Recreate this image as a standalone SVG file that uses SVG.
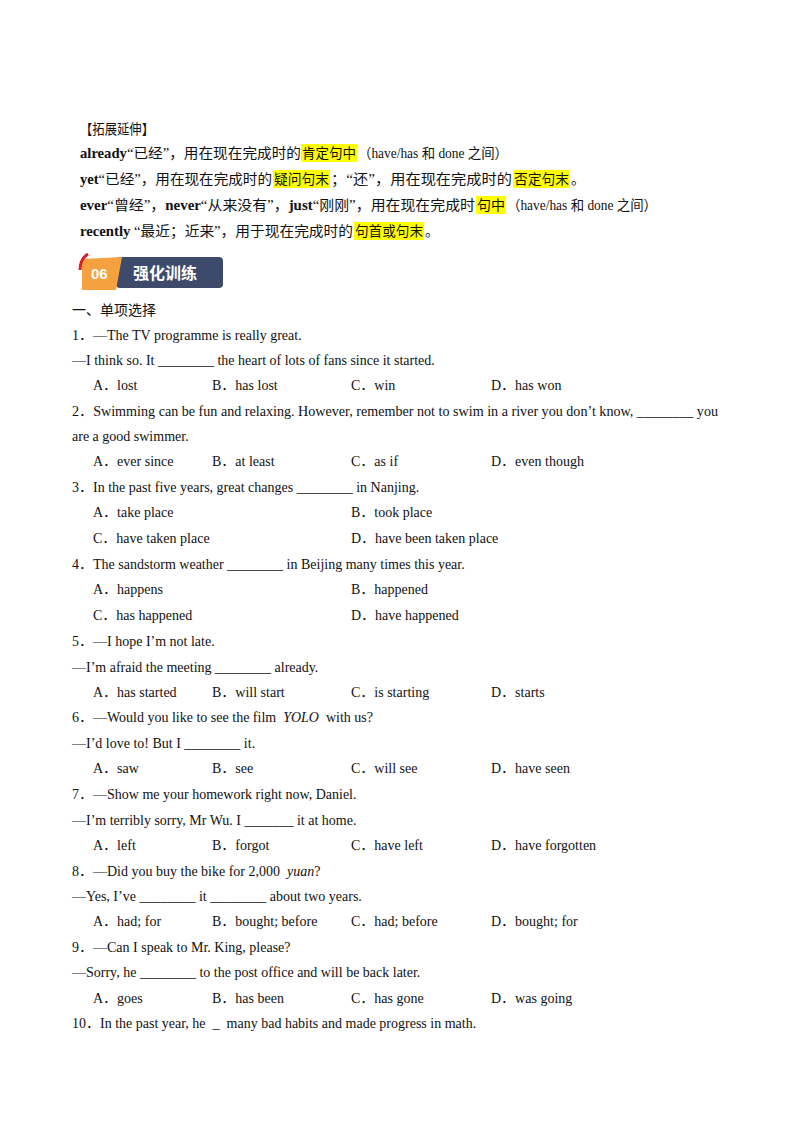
<svg xmlns="http://www.w3.org/2000/svg" width="800" height="1132" viewBox="0 0 800 1132">
<style>
text{font-family:"Liberation Serif","Noto Sans CJK SC",serif;font-size:14px;fill:#111}
.b{font-weight:bold}
.hl{fill:#ffff00}
</style>
<rect width="800" height="1132" fill="#fff"/>
<g id="highlights">
<rect class="hl" x="301" y="144" width="56" height="18"/>
<rect class="hl" x="273" y="170" width="57" height="18"/>
<rect class="hl" x="513" y="170" width="57" height="18"/>
<rect class="hl" x="476" y="196" width="30" height="18"/>
<rect class="hl" x="354" y="222" width="70" height="18"/>
</g>
<g id="extension">
<text x="80" y="134" textLength="74" lengthAdjust="spacingAndGlyphs">【拓展延伸】</text>
<text x="80" y="158" textLength="221" lengthAdjust="spacingAndGlyphs"><tspan class="b">already</tspan>“已经”，用在现在完成时的</text>
<text x="302" y="158" textLength="54" lengthAdjust="spacingAndGlyphs">肯定句中</text>
<text x="358" y="158" textLength="150" lengthAdjust="spacingAndGlyphs">（have/has 和 done 之间）</text>
<text x="80" y="184" textLength="192" lengthAdjust="spacingAndGlyphs"><tspan class="b">yet</tspan>“已经”，用在现在完成时的</text>
<text x="274" y="184" textLength="55" lengthAdjust="spacingAndGlyphs">疑问句末</text>
<text x="331" y="184" textLength="181" lengthAdjust="spacingAndGlyphs">；“还”，用在现在完成时的</text>
<text x="514" y="184" textLength="55" lengthAdjust="spacingAndGlyphs">否定句末</text>
<text x="571" y="184">。</text>
<text x="80" y="210" textLength="395" lengthAdjust="spacingAndGlyphs"><tspan class="b">ever</tspan>“曾经”，<tspan class="b">never</tspan>“从来没有”，<tspan class="b">just</tspan>“刚刚”，用在现在完成时</text>
<text x="477" y="210" textLength="28" lengthAdjust="spacingAndGlyphs">句中</text>
<text x="507" y="210" textLength="150" lengthAdjust="spacingAndGlyphs">（have/has 和 done 之间）</text>
<text x="80" y="236" textLength="273" lengthAdjust="spacingAndGlyphs"><tspan class="b">recently</tspan> “最近；近来”，用于现在完成时的</text>
<text x="355" y="236" textLength="68" lengthAdjust="spacingAndGlyphs">句首或句末</text>
<text x="425" y="236">。</text>
</g>
<g id="badge">
<rect x="116" y="257" width="107" height="31" rx="4" fill="#3d4a6b"/>
<polygon points="82,259 122,257 116,290 82,290" fill="#f6a13f"/>
<path d="M80,270 Q80,259 88,254" stroke="#e02020" stroke-width="3" fill="none"/>
<text x="91" y="279" style="font-family:'Liberation Sans',sans-serif;font-size:15px;font-weight:bold;fill:#fff">06</text>
<text x="133" y="279" style="font-family:'Noto Sans CJK SC',sans-serif;font-size:16px;font-weight:bold;fill:#fff">强化训练</text>
</g>
<g id="questions">
<text x="72" y="315">一、单项选择</text>
<text x="72" y="340">1．—The TV programme is really great.</text>
<text x="72" y="365">—I think so. It ________ the heart of lots of fans since it started.</text>
<text x="93" y="390">A．lost</text><text x="212" y="390">B．has lost</text><text x="351" y="390">C．win</text><text x="491" y="390">D．has won</text>
<text x="72" y="416" textLength="646" lengthAdjust="spacingAndGlyphs">2．Swimming can be fun and relaxing. However, remember not to swim in a river you don’t know, ________ you</text>
<text x="72" y="441">are a good swimmer.</text>
<text x="93" y="466">A．ever since</text><text x="212" y="466">B．at least</text><text x="351" y="466">C．as if</text><text x="491" y="466">D．even though</text>
<text x="72" y="492">3．In the past five years, great changes ________ in Nanjing.</text>
<text x="93" y="517">A．take place</text><text x="351" y="517">B．took place</text>
<text x="93" y="543">C．have taken place</text><text x="351" y="543">D．have been taken place</text>
<text x="72" y="569">4．The sandstorm weather ________ in Beijing many times this year.</text>
<text x="93" y="594">A．happens</text><text x="351" y="594">B．happened</text>
<text x="93" y="620">C．has happened</text><text x="351" y="620">D．have happened</text>
<text x="72" y="646">5．—I hope I’m not late.</text>
<text x="72" y="672">—I’m afraid the meeting ________ already.</text>
<text x="93" y="697">A．has started</text><text x="212" y="697">B．will start</text><text x="351" y="697">C．is starting</text><text x="491" y="697">D．starts</text>
<text x="72" y="722" xml:space="preserve">6．—Would you like to see the film  <tspan font-style="italic">YOLO</tspan>  with us?</text>
<text x="72" y="748">—I’d love to! But I ________ it.</text>
<text x="93" y="773">A．saw</text><text x="212" y="773">B．see</text><text x="351" y="773">C．will see</text><text x="491" y="773">D．have seen</text>
<text x="72" y="799">7．—Show me your homework right now, Daniel.</text>
<text x="72" y="825">—I’m terribly sorry, Mr Wu. I _______ it at home.</text>
<text x="93" y="850">A．left</text><text x="212" y="850">B．forgot</text><text x="351" y="850">C．have left</text><text x="491" y="850">D．have forgotten</text>
<text x="72" y="876" xml:space="preserve">8．—Did you buy the bike for 2,000  <tspan font-style="italic">yuan</tspan>?</text>
<text x="72" y="901">—Yes, I’ve ________ it ________ about two years.</text>
<text x="93" y="926">A．had; for</text><text x="212" y="926">B．bought; before</text><text x="351" y="926">C．had; before</text><text x="491" y="926">D．bought; for</text>
<text x="72" y="952">9．—Can I speak to Mr. King, please?</text>
<text x="72" y="977">—Sorry, he ________ to the post office and will be back later.</text>
<text x="93" y="1003">A．goes</text><text x="212" y="1003">B．has been</text><text x="351" y="1003">C．has gone</text><text x="491" y="1003">D．was going</text>
<text x="72" y="1028" xml:space="preserve">10．In the past year, he  _  many bad habits and made progress in math.</text>
</g>
</svg>
